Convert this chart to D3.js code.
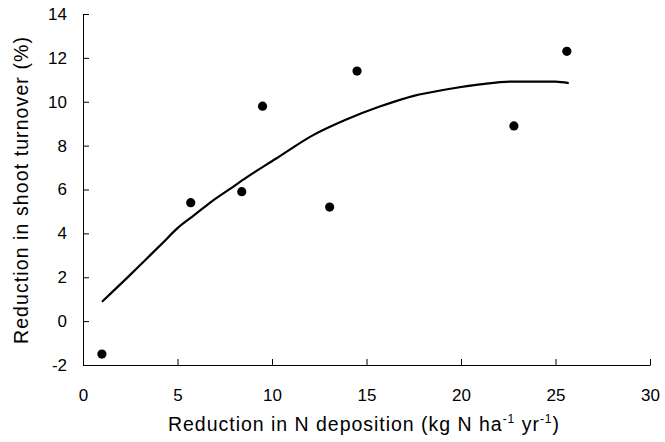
<!DOCTYPE html>
<html>
<head>
<meta charset="utf-8">
<script src="https://cdn.jsdelivr.net/npm/d3@7"></script>
<style>
  body { margin: 0; background: #fff; }
  text { font-family: Arial, "Liberation Sans", sans-serif; fill: #000; }
</style>
</head>
<body>
<div id="chart"></div>
<script>
// Observed points (reduction in N deposition vs reduction in shoot turnover)
const depositionValues = [1.0, 5.7, 8.4, 9.5, 13.05, 14.5, 22.8, 25.6];
const turnoverValues = [-1.5, 5.4, 5.9, 9.8, 5.2, 11.4, 8.9, 12.3];

// Trendline
const trendX = [1.0, 2.4, 3.3, 4.2, 5.0, 5.9, 6.8, 7.7, 8.6, 10.2, 12.2, 13.9, 15.7, 17.5, 19.2, 21.0, 22.6, 25.0, 25.7];
const trendY = [0.88, 2.03, 2.79, 3.55, 4.24, 4.84, 5.45, 5.98, 6.52, 7.4, 8.49, 9.18, 9.78, 10.27, 10.56, 10.79, 10.92, 10.92, 10.85];

const xTicks = [0, 5, 10, 15, 20, 25, 30];
const yTicks = [-2, 0, 2, 4, 6, 8, 10, 12, 14];

const width = 665, height = 442;
const margin = { left: 83, right: 15, top: 14, bottom: 77 };

const svg = d3.select('#chart').append('svg')
    .attr('width', width)
    .attr('height', height);

const x = d3.scaleLinear().domain([0, 30]).range([margin.left, width - margin.right]);
const y = d3.scaleLinear().domain([-2, 14]).range([height - margin.bottom, margin.top]);

// x axis, ticks pointing inward
const xAxis = svg.append('g')
    .attr('transform', `translate(0, ${y(-2)})`)
    .call(d3.axisBottom(x).tickValues(xTicks).tickFormat(d => String(d))
        .tickSize(-6).tickSizeOuter(0).tickPadding(24));
// y axis
const yAxis = svg.append('g')
    .attr('transform', `translate(${x(0)}, 0)`)
    .call(d3.axisLeft(y).tickValues(yTicks).tickFormat(d => String(d))
        .tickSize(-6).tickSizeOuter(0).tickPadding(16));

[xAxis, yAxis].forEach(g => {
    g.select('.domain').attr('stroke', '#000').attr('stroke-width', 1);
    g.selectAll('.tick line').attr('stroke', '#000');
    g.selectAll('.tick text')
        .attr('font-family', 'Arial, "Liberation Sans", sans-serif')
        .attr('font-size', 17)
        .attr('fill', '#000');
});

// trend curve
const line = d3.line()
    .x(d => x(d[0]))
    .y(d => y(d[1]))
    .curve(d3.curveMonotoneX);
svg.append('path')
    .datum(d3.zip(trendX, trendY))
    .attr('d', line)
    .attr('fill', 'none')
    .attr('stroke', '#000')
    .attr('stroke-width', 2.2);

// points
svg.append('g').selectAll('circle')
    .data(d3.zip(depositionValues, turnoverValues))
    .join('circle')
    .attr('cx', d => x(d[0]))
    .attr('cy', d => y(d[1]))
    .attr('r', 4.6)
    .attr('fill', '#000');

// stretch a title to the span it takes in the original
function fitTo(sel, target) {
    const node = sel.node();
    const len = node.getComputedTextLength();
    const n = node.textContent.length;
    sel.attr('letter-spacing', Math.max(0, (target - len) / n));
}

// axis titles
const xTitle = svg.append('text')
    .attr('x', 364)
    .attr('y', 431)
    .attr('text-anchor', 'middle')
    .attr('font-size', 19.5);
xTitle.append('tspan').text('Reduction in N deposition (kg N ha');
xTitle.append('tspan').attr('dy', -8).attr('font-size', 12).text('-1');
xTitle.append('tspan').attr('dy', 8).text(' yr');
xTitle.append('tspan').attr('dy', -8).attr('font-size', 12).text('-1');
xTitle.append('tspan').attr('dy', 8).text(')');
fitTo(xTitle, 392);

const yTitle = svg.append('text')
    .attr('transform', `translate(28, 190) rotate(-90)`)
    .attr('text-anchor', 'middle')
    .attr('font-size', 19.5)
    .text('Reduction in shoot turnover (%)');
fitTo(yTitle, 308);
</script>
</body>
</html>
